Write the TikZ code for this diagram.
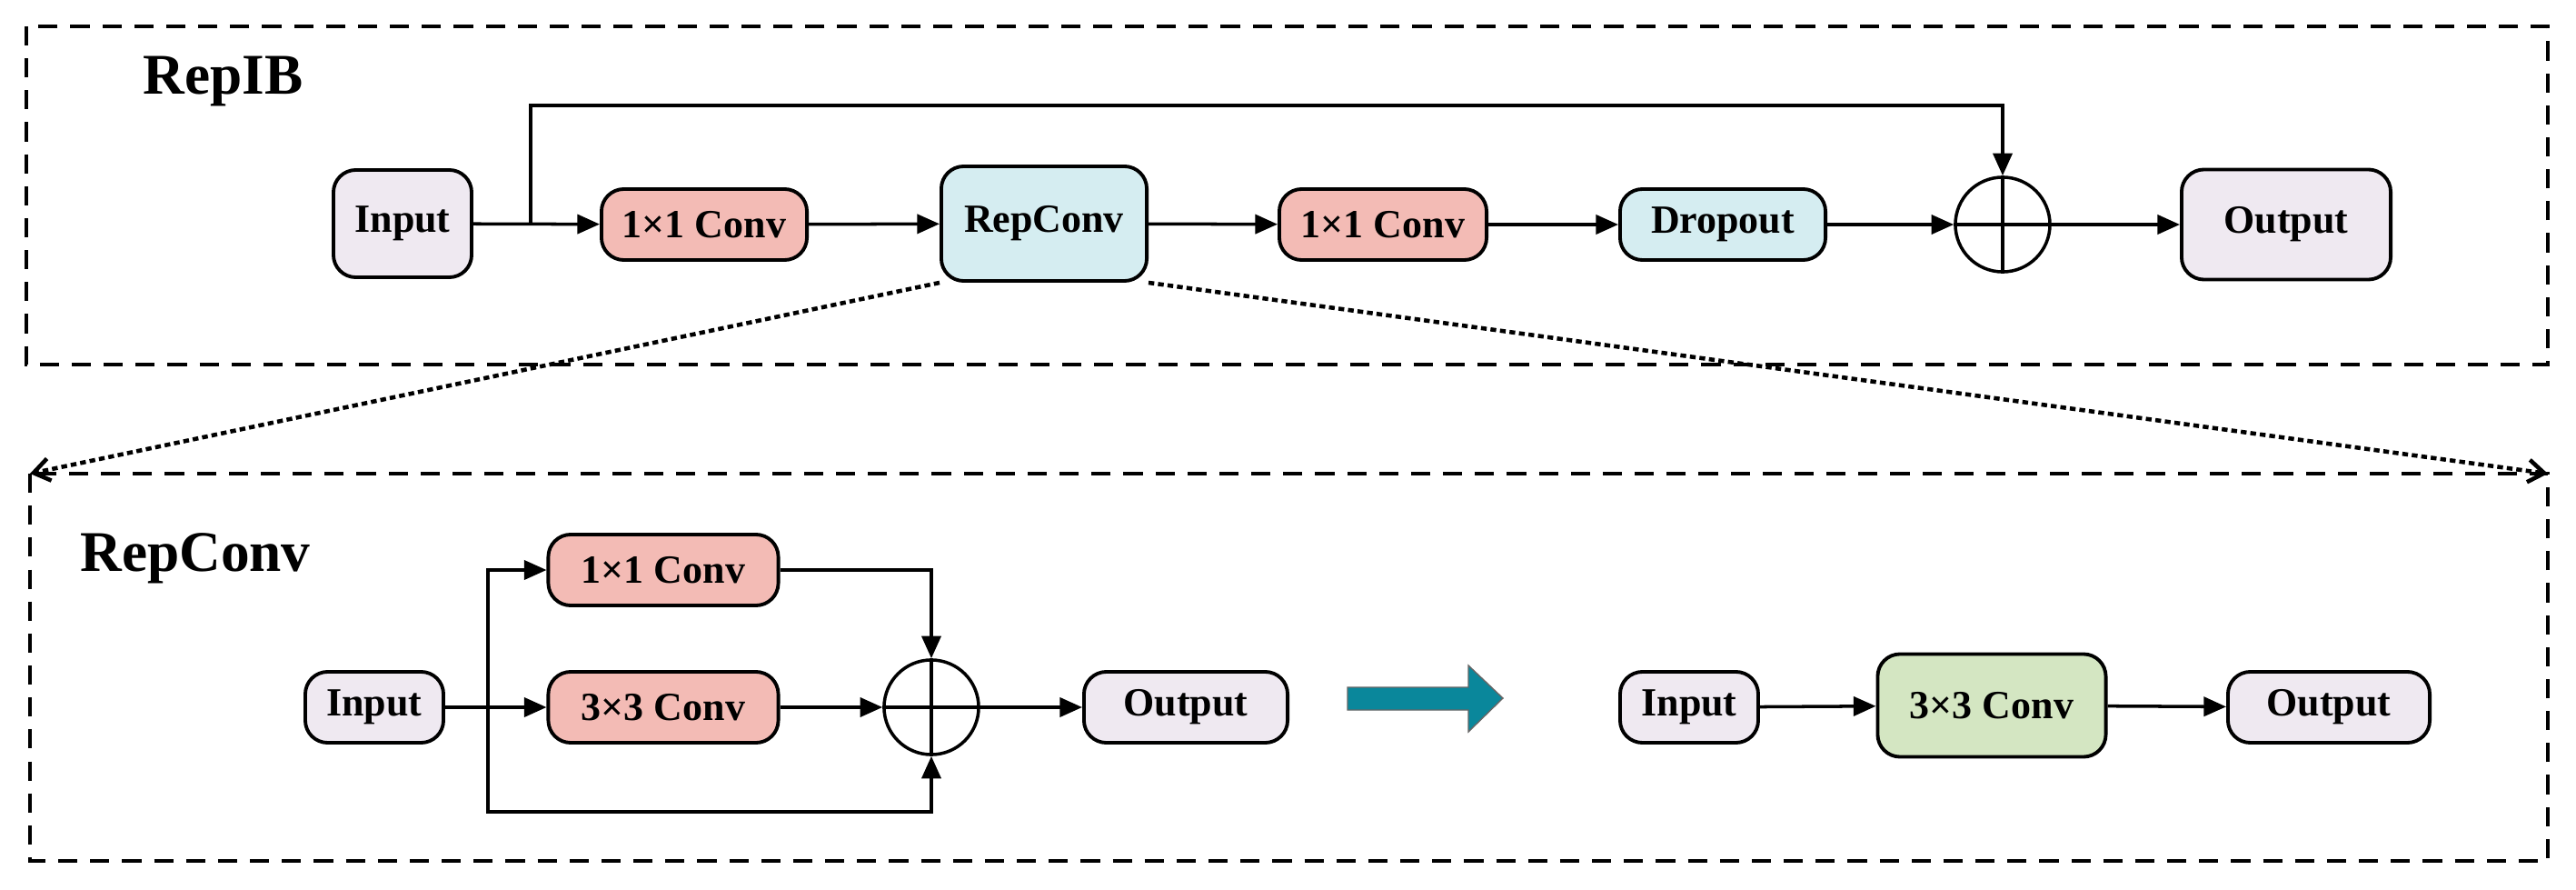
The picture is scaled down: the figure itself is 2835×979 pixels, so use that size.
\documentclass[tikz,border=0pt]{standalone}
\usepackage{fontspec}
\setmainfont{Liberation Serif}
\usetikzlibrary{arrows.meta}
\definecolor{cin}{HTML}{EFE9F1}
\definecolor{cconv}{HTML}{F3BBB5}
\definecolor{crep}{HTML}{D5EDF1}
\definecolor{cgreen}{HTML}{D4E6C2}
\definecolor{cteal}{HTML}{0A879B}
\begin{document}
\begin{tikzpicture}[x=0.01cm,y=-0.01cm,
 blk/.style={draw,line width=1.1pt,rounded corners=7pt,font=\bfseries\fontsize{12.5}{14}\selectfont,inner sep=0pt},
 sum/.style={draw,line width=1pt,circle,fill=white,minimum size=1.04cm,inner sep=0pt},
 ar/.style={line width=1pt,-{Triangle[length=7pt,width=6pt]}},
 ln/.style={line width=1pt},
 frame/.style={line width=0.9pt,dash pattern=on 6pt off 4pt},
 dots/.style={line width=1.3pt,dash pattern=on 1.8pt off 1.2pt,-{Straight Barb[length=5pt,width=7pt]}},
 ttl/.style={font=\bfseries\fontsize{18}{20}\selectfont,anchor=west}]
\useasboundingbox (0,0) rectangle (2835,979);
\draw[frame] (29,29) rectangle (2804,401);
\draw[frame] (33,521) rectangle (2804,947);
\node[ttl] (t1) at (145,90) {RepIB};
\node[ttl] (t2) at (76,614) {RepConv};
% top row
\node[blk,fill=cin,minimum width=1.52cm,minimum height=1.18cm] (in1) at (443,246) {Input};
\node[blk,fill=cconv,minimum width=2.26cm,minimum height=0.78cm] (c1) at (775,247) {1×1 Conv};
\node[blk,fill=crep,minimum width=2.26cm,minimum height=1.26cm] (rep) at (1149,246) {RepConv};
\node[blk,fill=cconv,minimum width=2.28cm,minimum height=0.78cm] (c2) at (1522,247) {1×1 Conv};
\node[blk,fill=crep,minimum width=2.26cm,minimum height=0.78cm] (drop) at (1896,247) {Dropout};
\node[sum] (s1) at (2204,247) {};
\draw[line width=1pt] (s1.north) -- (s1.south) (s1.west) -- (s1.east);
\node[blk,fill=cin,minimum width=2.30cm,minimum height=1.21cm] (out1) at (2516,247) {Output};
\coordinate (b1) at (584,247);
\draw[ar] (in1) -- (c1);
\draw[ar] (c1) -- (rep);
\draw[ar] (rep) -- (c2);
\draw[ar] (c2) -- (drop);
\draw[ar] (drop) -- (s1);
\draw[ar] (s1) -- (out1);
\draw[ar] (b1) |- (1400,116) -| (s1.north);
% dotted zoom lines
\coordinate (zl) at (33,521);
\coordinate (zr) at (2804,521);
\draw[dots] (rep.south west) -- (zl);
\draw[dots] (rep.south east) -- (zr);
% bottom
\node[blk,fill=cin,minimum width=1.52cm,minimum height=0.78cm] (in2) at (412,778) {Input};
\node[blk,fill=cconv,minimum width=2.53cm,minimum height=0.78cm] (b11) at (730,627) {1×1 Conv};
\node[blk,fill=cconv,minimum width=2.53cm,minimum height=0.78cm] (b33) at (730,778) {3×3 Conv};
\node[sum] (s2) at (1025,778) {};
\draw[line width=1pt] (s2.north) -- (s2.south) (s2.west) -- (s2.east);
\node[blk,fill=cin,minimum width=2.24cm,minimum height=0.78cm] (out2) at (1305,778) {Output};
\coordinate (br) at (537,778);
\draw[ar] (in2) -- (b33);
\draw[ar] (br) |- (b11.west);
\draw[ar] (b11.east) -| (s2.north);
\draw[ar] (b33) -- (s2);
\draw[ar] (br) |- (800,893) -| (s2.south);
\draw[ar] (s2) -- (out2);
% big arrow
\fill[cteal,draw=black!60,line width=0.4pt] (1483,756) -- (1616,756) -- (1616,732) -- (1654,768) -- (1616,805) -- (1616,781) -- (1483,781) -- cycle;
\node[blk,fill=cin,minimum width=1.52cm,minimum height=0.78cm] (in3) at (1859,778) {Input};
\node[blk,fill=cgreen,minimum width=2.51cm,minimum height=1.13cm] (g33) at (2192,776) {3×3 Conv};
\node[blk,fill=cin,minimum width=2.22cm,minimum height=0.78cm] (out3) at (2563,778) {Output};
\draw[ar] (in3) -- (g33);
\draw[ar] (g33) -- (out3);
\end{tikzpicture}
\end{document}
